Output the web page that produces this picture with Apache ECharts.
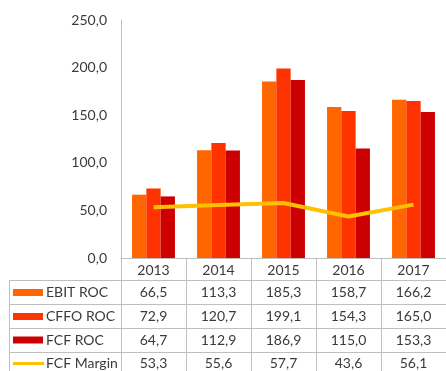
<!DOCTYPE html>
<html>
<head>
<meta charset="utf-8">
<script src="https://cdn.jsdelivr.net/npm/echarts@6/dist/echarts.min.js"></script>
<style>
  html, body { margin: 0; padding: 0; background: #fff; }
  #chart { width: 446px; height: 371px; }
</style>
</head>
<body>
<div id="chart"></div>
<script>
// Return-on-capital metrics by year, with the FCF margin line
const years = ['2013', '2014', '2015', '2016', '2017'];
const ebitRoc = [66.5, 113.3, 185.3, 158.7, 166.2];
const cffoRoc = [72.9, 120.7, 199.1, 154.3, 165.0];
const fcfRoc = [64.7, 112.9, 186.9, 115.0, 153.3];
const fcfMargin = [53.3, 55.6, 57.7, 43.6, 56.1];
const yMin = 0, yMax = 250, yStep = 50;

const FONT = 'Lato';
const FONT_SIZE = 14;
const TEXT = '#3a3a3a';
const GRID_LINE = '#bfbfbf';

const rows = [
  { name: 'EBIT ROC', values: ebitRoc, color: '#FF6600', key: 'bar', cy: 292.5 },
  { name: 'CFFO ROC', values: cffoRoc, color: '#FF3300', key: 'bar', cy: 316.5 },
  { name: 'FCF ROC', values: fcfRoc, color: '#CC0000', key: 'bar', cy: 340 },
  { name: 'FCF Margin', values: fcfMargin, color: '#FFC000', key: 'line', cy: 363.5 }
];

const fmt = v => v.toFixed(1).replace('.', ',');

const chart = echarts.init(document.getElementById('chart'), null, { renderer: 'canvas' });

const barSeries = rows.filter(r => r.key === 'bar').map(r => ({
  name: r.name,
  type: 'bar',
  data: r.values,
  barWidth: '22%',
  barGap: '0%',
  itemStyle: { color: r.color },
  emphasis: { disabled: true }
}));

const lineRow = rows.find(r => r.key === 'line');

chart.setOption({
  animation: false,
  grid: { left: 121, top: 20, width: 330, height: 238 },
  xAxis: {
    type: 'category',
    data: years,
    boundaryGap: true,
    axisLine: { show: true, lineStyle: { color: GRID_LINE, width: 1 } },
    axisTick: { show: true, length: 120, lineStyle: { color: GRID_LINE, width: 1 } },
    axisLabel: { color: TEXT, fontFamily: FONT, fontSize: FONT_SIZE, margin: 5, verticalAlign: 'top' },
    splitLine: { show: false }
  },
  yAxis: {
    type: 'value',
    min: yMin,
    max: yMax,
    interval: yStep,
    axisLine: { show: true, lineStyle: { color: GRID_LINE, width: 1 } },
    axisTick: { show: false },
    splitLine: { show: false },
    axisLabel: { color: TEXT, fontFamily: FONT, fontSize: FONT_SIZE, margin: 14, formatter: fmt }
  },
  series: barSeries.concat([{
    name: lineRow.name,
    type: 'line',
    data: lineRow.values,
    showSymbol: false,
    symbol: 'none',
    z: 5,
    lineStyle: { color: lineRow.color, width: 4 },
    emphasis: { disabled: true }
  }])
});

// Data table under the plot: row rules, legend keys, names and values
const tableLeft = 9, tableRight = 446, tableBottom = 371;
const ruleYs = [280.5, 304.5, 328.5, 352.5];
const graphics = [];
const font = FONT_SIZE + 'px "' + FONT + '"';

ruleYs.forEach(y => {
  graphics.push({
    type: 'line',
    shape: { x1: tableLeft, y1: y, x2: tableRight, y2: y },
    style: { stroke: GRID_LINE, lineWidth: 1 }
  });
});
graphics.push({
  type: 'line',
  shape: { x1: tableLeft + 0.5, y1: ruleYs[0], x2: tableLeft + 0.5, y2: tableBottom },
  style: { stroke: GRID_LINE, lineWidth: 1 }
});

rows.forEach(r => {
  if (r.key === 'bar') {
    graphics.push({
      type: 'rect',
      shape: { x: 13, y: r.cy - 3.5, width: 30, height: 7 },
      style: { fill: r.color }
    });
  } else {
    graphics.push({
      type: 'line',
      shape: { x1: 13, y1: r.cy, x2: 44, y2: r.cy },
      style: { stroke: r.color, lineWidth: 3 }
    });
  }
  graphics.push({
    type: 'text',
    x: 46, y: r.cy,
    style: { text: r.name, fill: TEXT, font: font, verticalAlign: 'middle', align: 'left' }
  });
  r.values.forEach((v, i) => {
    const cx = chart.convertToPixel({ xAxisIndex: 0 }, i);
    graphics.push({
      type: 'text',
      x: cx, y: r.cy,
      style: { text: fmt(v), fill: TEXT, font: font, verticalAlign: 'middle', align: 'center' }
    });
  });
});

chart.setOption({ graphic: graphics });
</script>
</body>
</html>
